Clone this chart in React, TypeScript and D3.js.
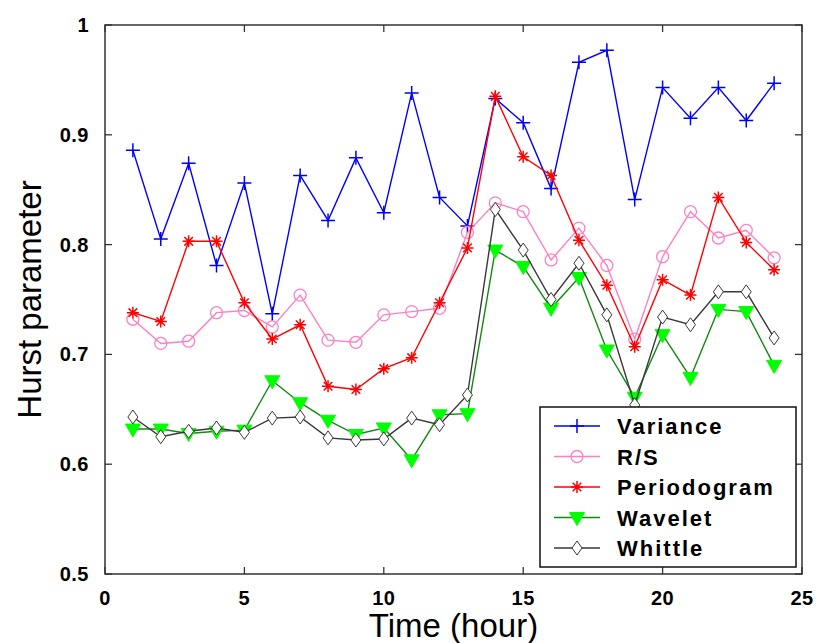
import React from "react";
import * as d3 from "d3";

const hours = d3.range(1, 25);
const variance = [0.886, 0.805, 0.874, 0.781, 0.856, 0.737, 0.863, 0.822, 0.879, 0.829, 0.938, 0.843, 0.817, 0.933, 0.911, 0.851, 0.966, 0.977, 0.841, 0.943, 0.915, 0.943, 0.913, 0.947];
const rs = [0.732, 0.710, 0.712, 0.738, 0.740, 0.725, 0.754, 0.713, 0.711, 0.736, 0.739, 0.742, 0.811, 0.838, 0.830, 0.786, 0.815, 0.781, 0.714, 0.789, 0.830, 0.806, 0.813, 0.788];
const periodogram = [0.738, 0.730, 0.803, 0.803, 0.747, 0.714, 0.727, 0.671, 0.668, 0.687, 0.697, 0.747, 0.797, 0.935, 0.880, 0.863, 0.804, 0.763, 0.707, 0.768, 0.754, 0.843, 0.802, 0.777];
const wavelet = [0.632, 0.632, 0.628, 0.630, 0.631, 0.676, 0.656, 0.640, 0.627, 0.633, 0.604, 0.645, 0.646, 0.795, 0.780, 0.742, 0.770, 0.704, 0.661, 0.718, 0.679, 0.741, 0.739, 0.690];
const whittle = [0.643, 0.625, 0.630, 0.633, 0.629, 0.642, 0.643, 0.624, 0.622, 0.623, 0.642, 0.636, 0.663, 0.832, 0.795, 0.750, 0.783, 0.736, 0.654, 0.734, 0.727, 0.757, 0.757, 0.715];

const seriesNames = ["Variance", "R/S", "Periodogram", "Wavelet", "Whittle"];
const xTicks = [0, 5, 10, 15, 20, 25];
const yTicks = [0.5, 0.6, 0.7, 0.8, 0.9, 1];

type Marker = "plus" | "circle" | "star" | "tri" | "diamond";
const styles: { color: string; marker: Marker; fill: string; mstroke: string }[] = [
  { color: "#0000ff", marker: "plus", fill: "none", mstroke: "#0000ff" },
  { color: "#ff80c0", marker: "circle", fill: "none", mstroke: "#ff80c0" },
  { color: "#ff0000", marker: "star", fill: "none", mstroke: "#ff0000" },
  { color: "#108a10", marker: "tri", fill: "#00ff00", mstroke: "#00ff00" },
  { color: "#383838", marker: "diamond", fill: "#ffffff", mstroke: "#383838" },
];
const allData = [variance, rs, periodogram, wavelet, whittle];

const L = 105, R = 802, T = 25, B = 574;
const x = d3.scaleLinear().domain([0, 25]).range([L, R]);
const y = d3.scaleLinear().domain([0.5, 1]).range([B, T]);

function MarkerShape({ m, cx, cy, fill, stroke }: { m: Marker; cx: number; cy: number; fill: string; stroke: string }) {
  if (m === "plus") {
    const s = 7;
    return <path d={`M${cx - s},${cy}H${cx + s}M${cx},${cy - s}V${cy + s}`} stroke={stroke} strokeWidth={1.5} fill="none" />;
  }
  if (m === "circle") return <circle cx={cx} cy={cy} r={6} stroke={stroke} strokeWidth={1.3} fill="none" />;
  if (m === "star") {
    const s = 6, d = 4.3;
    return <path d={`M${cx - s},${cy}H${cx + s}M${cx},${cy - s}V${cy + s}M${cx - d},${cy - d}L${cx + d},${cy + d}M${cx - d},${cy + d}L${cx + d},${cy - d}`} stroke={stroke} strokeWidth={1.5} fill="none" />;
  }
  if (m === "tri") {
    return <path d={`M${cx - 7.5},${cy - 5}L${cx + 7.5},${cy - 5}L${cx},${cy + 8}Z`} fill={fill} stroke={stroke} strokeWidth={1} />;
  }
  return <path d={`M${cx},${cy - 7}L${cx + 5},${cy}L${cx},${cy + 7}L${cx - 5},${cy}Z`} fill={fill} stroke={stroke} strokeWidth={1} />;
}

export default function App() {
  const line = d3.line<number>().x((_, i) => x(hours[i])).y((v) => y(v));
  const tickFont = { fontFamily: "Liberation Sans, Arial, sans-serif", fontWeight: 700, fontSize: 20, letterSpacing: 0.5 } as const;
  const legX = 540, legY = 407, legW = 256, legH = 160;
  return (
    <svg width={819} height={643} style={{ position: "absolute", left: 0, top: 0, background: "#fff" }}>
      <rect x={0} y={0} width={819} height={643} fill="#fff" />
      <rect x={L} y={T} width={R - L} height={B - T} fill="none" stroke="#333" strokeWidth={1.5} />
      {xTicks.map((t) => (
        <g key={"x" + t}>
          <line x1={x(t)} x2={x(t)} y1={B} y2={B - 7} stroke="#333" strokeWidth={1.3} />
          <line x1={x(t)} x2={x(t)} y1={T} y2={T + 7} stroke="#333" strokeWidth={1.3} />
          <text x={x(t)} y={605} textAnchor="middle" {...tickFont}>{t}</text>
        </g>
      ))}
      {yTicks.map((t) => (
        <g key={"y" + t}>
          <line x1={L} x2={L + 7} y1={y(t)} y2={y(t)} stroke="#333" strokeWidth={1.3} />
          <line x1={R} x2={R - 7} y1={y(t)} y2={y(t)} stroke="#333" strokeWidth={1.3} />
          <text x={89} y={y(t) + 7} textAnchor="end" {...tickFont}>{t === 1 ? "1" : t.toFixed(1)}</text>
        </g>
      ))}
      {allData.map((data, si) => (
        <g key={"s" + si}>
          <path d={line(data) || ""} fill="none" stroke={styles[si].color} strokeWidth={1.4} />
          {data.map((v, i) => (
            <MarkerShape key={i} m={styles[si].marker} cx={x(hours[i])} cy={y(v)} fill={styles[si].fill} stroke={styles[si].mstroke} />
          ))}
        </g>
      ))}
      <rect x={legX} y={legY} width={legW} height={legH} fill="#fff" stroke="#111" strokeWidth={1.5} />
      {seriesNames.map((n, i) => {
        const yy = 426 + i * 30.5;
        return (
          <g key={n}>
            <line x1={554} x2={600} y1={yy} y2={yy} stroke={styles[i].color} strokeWidth={1.4} />
            <MarkerShape m={styles[i].marker} cx={577} cy={yy} fill={styles[i].fill} stroke={styles[i].mstroke} />
            <text x={617} y={yy + 8} fontFamily="Liberation Sans, Arial, sans-serif" fontWeight={700} fontSize={22} letterSpacing={2}>{n}</text>
          </g>
        );
      })}
      <text x={(L + R) / 2} y={637} textAnchor="middle" fontFamily="Liberation Sans, Arial, sans-serif" fontSize={33}>Time (hour)</text>
      <text transform={`translate(41,${(T + B) / 2}) rotate(-90)`} textAnchor="middle" fontFamily="Liberation Sans, Arial, sans-serif" fontSize={33}>Hurst parameter</text>
    </svg>
  );
}
